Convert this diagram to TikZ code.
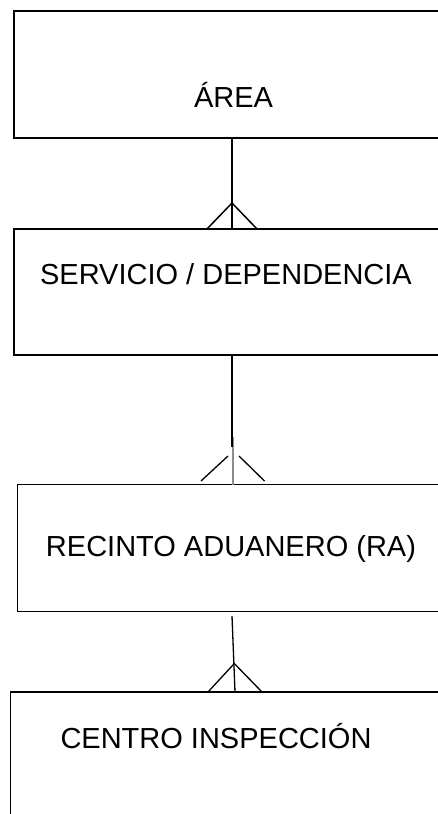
\documentclass[tikz,border=0pt]{standalone}
\usepackage{fontspec}
\setmainfont{Liberation Sans}
\begin{document}
\begin{tikzpicture}[x=1pt,y=-1pt,
  ent/.style={draw=black, line width=1.7pt, rectangle, anchor=north west, inner sep=0pt, outer sep=0pt, minimum width=440pt},
  entthin/.style={ent, line width=1.3pt},
  lbl/.style={anchor=base, inner sep=0pt, font=\fontsize{29}{34}\selectfont},
  rel/.style={line width=1.5pt, line cap=butt},
  relgray/.style={line width=1.2pt, draw=black!45}]
\useasboundingbox (0,0) rectangle (438,814);
\clip (0,0) rectangle (438,814);
% entity boxes
\node[ent, minimum height=127pt] (area) at (14,11) {};
\node[ent, minimum height=126pt] (serv) at (14,229) {};
\node[entthin, minimum height=127pt] (reci) at (17.5,484.5) {};
\node[entthin, minimum height=140pt] (cent) at (10.5,692) {};
% labels
\node[lbl] (tarea) at (233.5,107.3) {ÁREA};
\node[lbl] (tserv) at (226,284) {SERVICIO / DEPENDENCIA};
\node[lbl] (treci) at (231,556.7) {RECINTO ADUANERO (RA)};
\node[lbl] (tcent) at (216,748) {CENTRO INSPECCIÓN};
% connector 1
\coordinate (x1) at (232,0);
\coordinate (ap1) at (232,203);
\coordinate (fl1) at (207,229);
\coordinate (fr1) at (257,229);
\draw[rel] (area.south -| x1) -- (serv.north -| x1);
\draw[rel] (fl1) -- (ap1) -- (fr1);
% connector 2
\coordinate (x2) at (233,0);
\coordinate (e2) at (232,447);
\coordinate (g2) at (233,437);
\coordinate (fl2a) at (201,481);
\coordinate (fl2b) at (228,456);
\coordinate (fr2a) at (239,456);
\coordinate (fr2b) at (264.5,481);
\draw[relgray] (g2) -- (reci.north -| x2);
\draw[rel] (serv.south -| x1) -- (e2);
\draw[rel, line width=1.3pt] (fl2a) -- (fl2b);
\draw[rel, line width=1.3pt] (fr2a) -- (fr2b);
% connector 3
\coordinate (s3) at (232,616);
\coordinate (x3) at (235,0);
\coordinate (ap3) at (234.3,663.5);
\coordinate (fl3) at (208,692);
\coordinate (fr3) at (262,692);
\draw[rel, line width=1.3pt] (s3) -- (cent.north -| x3);
\draw[rel, line width=1.3pt] (fl3) -- (ap3) -- (fr3);
\end{tikzpicture}
\end{document}
